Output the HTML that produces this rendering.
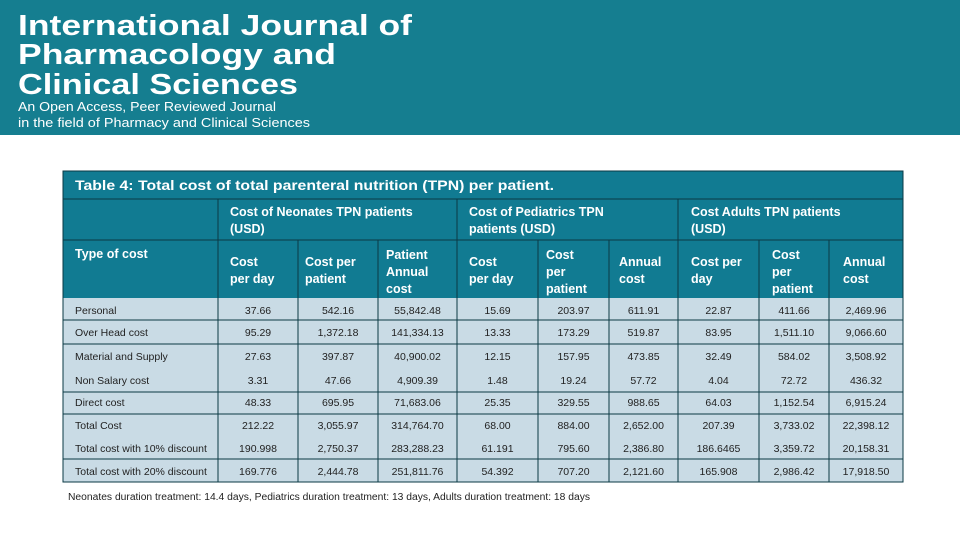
<!DOCTYPE html>
<html><head><meta charset="utf-8"><style>
html,body{margin:0;padding:0;width:960px;height:540px;overflow:hidden;background:#fff;font-family:"Liberation Sans",sans-serif}
svg{display:block}
</style></head><body>
<svg width="960" height="540" xmlns="http://www.w3.org/2000/svg">
<rect x="0" y="0" width="960" height="135" fill="#157e90"/>
<g fill="#fff" font-family="Liberation Sans, sans-serif" font-weight="bold">
<text x="18" y="35" font-size="29" textLength="394" lengthAdjust="spacingAndGlyphs">International Journal of</text>
<text x="18" y="64" font-size="29" textLength="318" lengthAdjust="spacingAndGlyphs">Pharmacology and</text>
<text x="18" y="94" font-size="29" textLength="280" lengthAdjust="spacingAndGlyphs">Clinical Sciences</text>
</g>
<g fill="#fff" font-size="13" font-family="Liberation Sans, sans-serif">
<text x="18" y="111" textLength="258" lengthAdjust="spacingAndGlyphs">An Open Access, Peer Reviewed Journal</text>
<text x="18" y="127" textLength="292" lengthAdjust="spacingAndGlyphs">in the field of Pharmacy and Clinical Sciences</text>
</g>
<g id="tbl"></g>
<text x="68" y="500" font-size="10" fill="#222" textLength="522" lengthAdjust="spacingAndGlyphs">Neonates duration treatment: 14.4 days, Pediatrics duration treatment: 13 days, Adults duration treatment: 18 days</text>
</svg>
<script>
const rowLabels=["Personal","Over Head cost","Material and Supply","Non Salary cost","Direct cost","Total Cost","Total cost with 10% discount","Total cost with 20% discount"];
const neonates=[["37.66","542.16","55,842.48"],["95.29","1,372.18","141,334.13"],["27.63","397.87","40,900.02"],["3.31","47.66","4,909.39"],["48.33","695.95","71,683.06"],["212.22","3,055.97","314,764.70"],["190.998","2,750.37","283,288.23"],["169.776","2,444.78","251,811.76"]];
const pediatrics=[["15.69","203.97","611.91"],["13.33","173.29","519.87"],["12.15","157.95","473.85"],["1.48","19.24","57.72"],["25.35","329.55","988.65"],["68.00","884.00","2,652.00"],["61.191","795.60","2,386.80"],["54.392","707.20","2,121.60"]];
const adults=[["22.87","411.66","2,469.96"],["83.95","1,511.10","9,066.60"],["32.49","584.02","3,508.92"],["4.04","72.72","436.32"],["64.03","1,152.54","6,915.24"],["207.39","3,733.02","22,398.12"],["186.6465","3,359.72","20,158.31"],["165.908","2,986.42","17,918.50"]];
const NS="http://www.w3.org/2000/svg",g=document.getElementById('tbl');
const cols=[63,218,298,378,457,538,609,678,759,829,903];
const rowY=[298,320,344,368,392,414,437,459,482];
const TEAL="#117b92",BODY="#c9dbe5";
function el(t,a,p){const e=document.createElementNS(NS,t);for(const k in a)e.setAttribute(k,a[k]);(p||g).appendChild(e);return e;}
function txt(x,y,s,o){const e=el('text',Object.assign({x:x,y:y,'font-size':12,fill:'#fff','font-family':'Liberation Sans, sans-serif'},o||{}));e.textContent=s;return e;}
const hdr=el('rect',{x:63,y:171,width:840,height:127,fill:TEAL});


const body=el('rect',{x:63,y:298,width:840,height:184,fill:BODY});


const tt=txt(75,190,"Table 4: Total cost of total parenteral nutrition (TPN) per patient.",{'font-size':14,'font-weight':'bold',textLength:479,lengthAdjust:'spacingAndGlyphs'});


// header lines
const lc='#0a3a44';
el('line',{x1:63,y1:199,x2:903,y2:199,stroke:lc,'stroke-width':1});
el('line',{x1:63,y1:240,x2:903,y2:240,stroke:lc,'stroke-width':1});
el('line',{x1:218,y1:199,x2:218,y2:482,stroke:lc});
el('line',{x1:457,y1:199,x2:457,y2:482,stroke:lc});
el('line',{x1:678,y1:199,x2:678,y2:482,stroke:lc});
[298,378,538,609,759,829].forEach(x=>el('line',{x1:x,y1:240,x2:x,y2:482,stroke:lc}));
[320,344,392,414,459,482].forEach(y=>el('line',{x1:63,y1:y,x2:903,y2:y,stroke:lc}));
el('rect',{x:63,y:171,width:840,height:311,fill:'none',stroke:lc});
const B={'font-weight':'bold','font-size':12.5};
const groups=[["Cost of Neonates TPN patients","(USD)",230],["Cost of Pediatrics TPN","patients (USD)",469],["Cost Adults TPN patients","(USD)",691]];
groups.forEach(gr=>{const a=txt(gr[2],216,gr[0],B);txt(gr[2],233,gr[1],B);});
const th=txt(75,258,"Type of cost",B);


const sub=[[["Cost","per day"],230],[["Cost per","patient"],305],[["Patient","Annual","cost"],386],[["Cost","per day"],469],[["Cost","per","patient"],546],[["Annual","cost"],619],[["Cost per","day"],691],[["Cost","per","patient"],772],[["Annual","cost"],843]];
sub.forEach(s=>{const n=s[0].length,y0=n==3?259:266;s[0].forEach((w,i)=>{const t=txt(s[1],y0+i*17,w,B);});});
const ry=[314,336,360,384,406,429,452,475];
rowLabels.forEach((lab,i)=>{
 const t=txt(75,ry[i],lab,{fill:'#222','font-size':10.5});
 
 
 const vals=neonates[i].concat(pediatrics[i],adults[i]);
 vals.forEach((v,j)=>{const cx=(cols[j+1]+cols[j+2])/2;const c=txt(cx,ry[i],v,{fill:'#222','font-size':10.5,'text-anchor':'middle'});
 
 });
});
</script>
</body></html>
